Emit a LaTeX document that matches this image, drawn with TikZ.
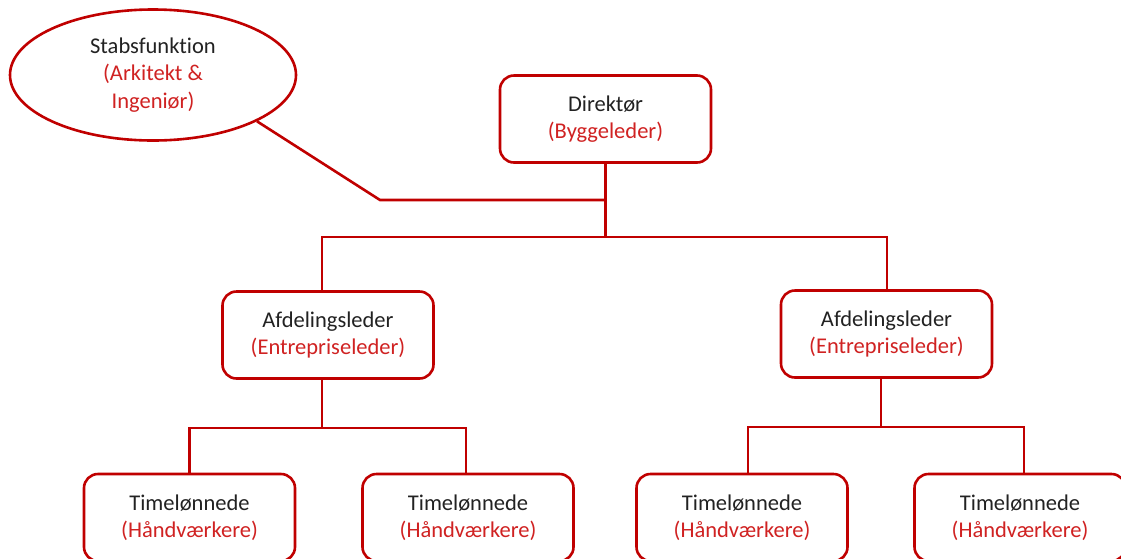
\documentclass[tikz,border=0pt]{standalone}
\usepackage{fontspec}
\setmainfont{Carlito}[Ligatures=NoCommon]
\usetikzlibrary{calc,shapes.geometric}
\definecolor{linered}{HTML}{C00000}
\definecolor{textred}{HTML}{D02222}
\definecolor{textblack}{HTML}{222222}
\begin{document}
\begin{tikzpicture}[x=1pt,y=-1pt,
  every node/.style={font=\fontsize{22.5}{27.5}\selectfont, text=textblack, align=center},
  orgbox/.style={draw=linered, line width=2.6pt, rounded corners=14pt, fill=white,
    minimum width=211pt, minimum height=87pt, inner sep=0pt},
  staffoval/.style={draw=linered, line width=2.6pt, ellipse, fill=white,
    minimum width=286pt, minimum height=131pt, inner sep=0pt},
  link/.style={draw=linered, line width=2.6pt}]
\useasboundingbox (0,0) rectangle (1121,558);

% staff function and head
\node[staffoval] (stab) at (153,75) {Stabsfunktion\\\textcolor{textred}{(Arkitekt \&}\\\textcolor{textred}{Ingeniør)}};
\node[orgbox] (dir) at (605.5,119) {Direktør\\\textcolor{textred}{(Byggeleder)}};

% department leaders
\node[orgbox] (a1) at (328,335) {Afdelingsleder\\\textcolor{textred}{(Entrepriseleder)}};
\node[orgbox] (a2) at (886.5,334) {Afdelingsleder\\\textcolor{textred}{(Entrepriseleder)}};

% hourly workers
\node[orgbox] (t1) at (189.5,517.5) {Timelønnede\\\textcolor{textred}{(Håndværkere)}};
\node[orgbox] (t2) at (468,517.5) {Timelønnede\\\textcolor{textred}{(Håndværkere)}};
\node[orgbox] (t3) at (742,517.5) {Timelønnede\\\textcolor{textred}{(Håndværkere)}};
\node[orgbox] (t4) at (1020,517.5) {Timelønnede\\\textcolor{textred}{(Håndværkere)}};

% bus levels
\coordinate (staffknee) at (380,200);
\coordinate (topbus) at (0,237);
\coordinate (lbus) at (0,428);
\coordinate (rbus) at (0,427);

% staff connection
\draw[link] (stab.-24) -- (staffknee) -- (staffknee -| dir.south);

% director to departments
\draw[link] (dir.south) -- (dir.south |- topbus);
\draw[link, line join=miter] ($(a1.north)+(-6,0)$) -- ($(a1.north |- topbus)+(-6,0)$)
  -- ($(a2.north |- topbus)+(0.5,0)$) -- ($(a2.north)+(0.5,0)$);

% left department to workers
\draw[link] ($(a1.south)+(-6,0)$) -- ($(a1.south |- lbus)+(-6,0)$);
\draw[link] (t1.north) -- (t1.north |- lbus) -- ($(t2.north |- lbus)+(-2,0)$) -- ($(t2.north)+(-2,0)$);

% right department to workers
\draw[link] ($(a2.south)+(-5.5,0)$) -- ($(a2.south |- rbus)+(-5.5,0)$);
\draw[link] ($(t3.north)+(6,0)$) -- ($(t3.north |- rbus)+(6,0)$) -- ($(t4.north |- rbus)+(4,0)$) -- ($(t4.north)+(4,0)$);
\end{tikzpicture}
\end{document}
